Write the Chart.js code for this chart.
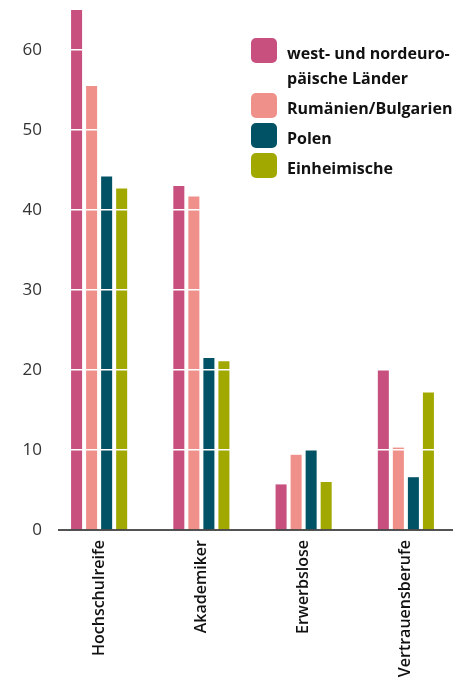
<!DOCTYPE html>
<html>
<head>
<meta charset="utf-8">
<script src="https://cdn.jsdelivr.net/npm/chart.js@4"></script>
<style>
  html, body { margin: 0; padding: 0; background: #fff; }
  #wrap { position: relative; width: 473px; height: 679px; }
  #legend { position: absolute; left: 251px; top: 38px; font-family: "Open Sans", sans-serif; font-weight: 700; font-size: 16px; color: #111; }
  .item { display: flex; align-items: flex-start; margin-bottom: 5px; }
  .box { width: 26px; height: 25px; border-radius: 5px; flex: none; margin-right: 10px; }
  .txt { line-height: 25px; position: relative; top: 3px; }
</style>
</head>
<body>
<div id="wrap">
  <canvas id="c" width="473" height="679"></canvas>
  <div id="legend"></div>
</div>
<script>
// Kategorien und Werte (Prozent)
const categories = ['Hochschulreife', 'Akademiker', 'Erwerbslose', 'Vertrauensberufe'];
const seriesNames = [['west- und nordeuro-', 'päische Länder'], ['Rumänien/Bulgarien'], ['Polen'], ['Einheimische']];
const westNord = [65, 43.0, 5.7, 20.0];
const rumBul = [55.5, 41.7, 9.4, 10.3];
const polen = [44.2, 21.5, 10.0, 6.6];
const einheimische = [42.7, 21.1, 6.0, 17.2];
const colors = ['#c8507f', '#ef908a', '#015265', '#a1a900'];
const yTicks = [0, 10, 20, 30, 40, 50, 60];

const seriesValues = [westNord, rumBul, polen, einheimische];

// Grundlinie (schwarz) unter den Balken
const baseline = {
    id: 'baseline',
    afterDatasetsDraw(chart) {
        const y = chart.scales.y.getPixelForValue(0);
        const ctx = chart.ctx;
        ctx.save();
        ctx.strokeStyle = '#1a1a1a';
        ctx.lineWidth = 1.5;
        ctx.beginPath();
        ctx.moveTo(chart.chartArea.left + 10, y);
        ctx.lineTo(chart.chartArea.right - 4, y);
        ctx.stroke();
        ctx.restore();
    }
};

const chartData = {
    labels: categories,
    datasets: seriesValues.map(function(vals, i) {
        return {
            label: seriesNames[i].join(' '),
            data: vals,
            backgroundColor: colors[i],
            borderWidth: 0,
            barPercentage: 0.733,
            categoryPercentage: 0.588
        };
    })
};

const config = {
    type: 'bar',
    data: chartData,
    options: {
        responsive: false,
        animation: false,
        layout: { padding: { top: 10, right: 16, left: 0, bottom: 0 } },
        plugins: {
            legend: { display: false },
            tooltip: { enabled: false }
        },
        scales: {
            x: {
                grid: { display: false, drawTicks: false },
                border: { display: false },
                ticks: {
                    minRotation: 90,
                    maxRotation: 90,
                    padding: 10,
                    color: '#111',
                    font: { family: 'Open Sans', size: 16, weight: '600' }
                },
                afterFit: function(scale) { scale.height = 149; }
            },
            y: {
                min: 0,
                max: 65,
                afterBuildTicks: function(scale) {
                    scale.ticks = yTicks.map(function(v) { return { value: v }; });
                },
                grid: {
                    z: 1,
                    drawTicks: false,
                    color: function(c) { return c.tick && c.tick.value === 0 ? 'rgba(0,0,0,0)' : '#ffffff'; },
                    lineWidth: 1.5
                },
                border: { display: false },
                ticks: {
                    padding: 6,
                    color: '#333',
                    font: { family: 'Open Sans', size: 17 }
                },
                afterFit: function(scale) {
                    scale.width = 48;
                    scale.paddingTop = 0;
                    scale.paddingBottom = 0;
                }
            }
        }
    },
    plugins: [baseline]
};

new Chart(document.getElementById('c').getContext('2d'), config);

// Legende als HTML (zweizeiliger Eintrag)
const legend = document.getElementById('legend');
seriesNames.forEach(function(name, i) {
    const item = document.createElement('div');
    item.className = 'item';
    const box = document.createElement('div');
    box.className = 'box';
    box.style.background = colors[i];
    const txt = document.createElement('div');
    txt.className = 'txt';
    txt.innerHTML = name.join('<br>');
    item.appendChild(box);
    item.appendChild(txt);
    legend.appendChild(item);
});
</script>
</body>
</html>
